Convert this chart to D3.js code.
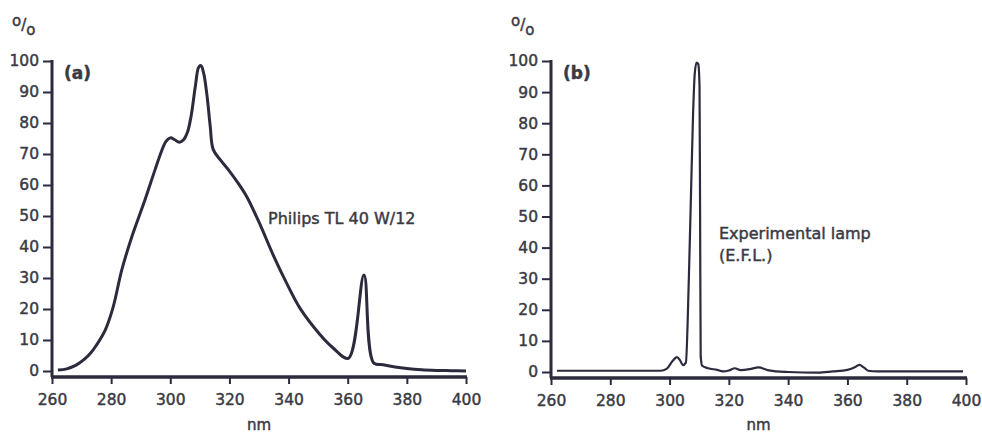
<!DOCTYPE html>
<html>
<head>
<meta charset="utf-8">
<script src="https://cdn.jsdelivr.net/npm/d3@7"></script>
<style>
  body { margin: 0; background: #fff; }
  svg text { font-family: "DejaVu Sans", sans-serif; fill: #3a3a44; stroke: #3a3a44; stroke-width: 0.45px; }
</style>
</head>
<body>
<div id="viz"></div>
<script>
// wavelength ticks and percent ticks
var nmTicks = [260, 280, 300, 320, 340, 360, 380, 400];
var pctTicks = [0, 10, 20, 30, 40, 50, 60, 70, 80, 90, 100];

// (a) Philips TL 40 W/12
var nmA = [262, 265, 268, 271, 273, 275, 278, 280.7, 283.6, 287, 291, 294.8, 297, 298.5, 300, 301.5, 303, 304.5, 305.8, 307, 308.5, 309.6, 310.4, 311.3, 312.4, 313.5, 314.5,
           317, 320, 323, 326, 330, 335, 339, 343.9, 350.6, 355, 360.2, 365.5, 368.7, 372, 376, 380, 385, 390, 395, 400];
var pctA = [0.3, 0.7, 1.8, 3.8, 5.7, 8.3, 13.2, 20.7, 32.6, 43.3, 54, 64.8, 70.8, 74, 75.2, 74.6, 73.8, 74.6, 77, 82, 92, 98, 98.5, 96, 89, 79, 71.5,
            68, 64.5, 60.5, 56, 48, 37, 29, 20.2, 11.8, 7.5, 4.1, 31, 2.7, 2, 1.3, 0.8, 0.4, 0.2, 0.1, 0];

// (b) experimental lamp (E.F.L.)
var nmB = [262, 280, 297, 299, 301, 302.5, 303.5, 304.5, 305.5, 306.5, 307.3, 307.9, 308.5, 309.1, 309.7, 310.1, 310.3, 310.5, 311, 313, 316, 318, 320, 322, 324, 327, 330, 333, 336, 340,
           350, 355, 360, 362.5, 364, 365.5, 367, 370, 380, 390, 399];
var pctB = [0.4, 0.4, 0.4, 1, 3.5, 4.8, 3.8, 2.2, 3, 30, 60, 82, 96, 99.5, 99, 92, 50, 5, 2, 1.2, 0.7, 0.2, 0.5, 1.2, 0.6, 0.9, 1.5, 0.6, 0.2, 0,
            -0.2, 0.2, 0.7, 1.5, 2.3, 1.5, 0.4, 0.2, 0.2, 0.2, 0.2];

var ink = "#2b2b3d";

var svg = d3.select("#viz").append("svg")
    .attr("width", 982)
    .attr("height", 435);

function panel(opt) {
  var x = d3.scaleLinear().domain([260, 400]).range([opt.x0, opt.x1]);
  var y = d3.scaleLinear().domain([0, 100]).range([opt.y0, opt.y100]);
  var g = svg.append("g");

  // y axis
  var yAxis = d3.axisLeft(y).tickValues(pctTicks).tickSize(9).tickSizeOuter(0).tickPadding(4);
  var ya = g.append("g").attr("transform", "translate(" + opt.x0 + ",0)").call(yAxis);
  ya.select(".domain").remove();
  ya.selectAll(".tick line").attr("stroke", ink).attr("stroke-width", 2);
  ya.selectAll(".tick text").style("font-size", "15.5px").attr("fill", null);
  g.append("line")
      .attr("x1", opt.x0).attr("x2", opt.x0)
      .attr("y1", y(100) - 1).attr("y2", opt.axisY)
      .attr("stroke", ink).attr("stroke-width", 3);

  // x axis
  var xAxis = d3.axisBottom(x).tickValues(nmTicks).tickSize(7).tickSizeOuter(0).tickPadding(10);
  var xa = g.append("g").attr("transform", "translate(0," + opt.axisY + ")").call(xAxis);
  xa.select(".domain").remove();
  xa.selectAll(".tick line").attr("stroke", ink).attr("stroke-width", 2);
  xa.selectAll(".tick text").style("font-size", "15.5px").attr("fill", null);
  g.append("line")
      .attr("x1", opt.x0 - 1).attr("x2", opt.x1 + 1)
      .attr("y1", opt.axisY).attr("y2", opt.axisY)
      .attr("stroke", ink).attr("stroke-width", 3.5);

  // unit labels
  var pct = g.append("text").attr("x", opt.x0 - 40).attr("y", 30).style("font-size", "15px");
  pct.append("tspan").attr("dy", -4).text("o");
  pct.append("tspan").attr("dy", 4).text("/");
  pct.append("tspan").attr("dy", 5).text("o");
  g.append("text")
      .attr("x", (opt.x0 + opt.x1) / 2).attr("y", 430)
      .attr("text-anchor", "middle")
      .style("font-size", "15px")
      .text("nm");
  g.append("text")
      .attr("x", opt.x0 + 12).attr("y", 79)
      .style("font-size", "17px").style("font-weight", "bold")
      .text(opt.tag);

  // spectrum
  var line = d3.line()
      .x(function(d) { return x(d[0]); })
      .y(function(d) { return y(d[1]); })
      .curve(opt.curve);
  g.append("path")
      .datum(d3.zip(opt.nm, opt.pct))
      .attr("d", line)
      .attr("fill", "none")
      .attr("stroke", ink)
      .attr("stroke-width", opt.lw)
      .attr("stroke-linejoin", "round");

  opt.labels.forEach(function(l) {
    g.append("text")
        .attr("x", l.x).attr("y", l.y)
        .style("font-size", "16px")
        .text(l.t);
  });
}

panel({x0: 52, x1: 466, y0: 371, y100: 61, axisY: 377, tag: "(a)", nm: nmA, pct: pctA, lw: 3,
       curve: d3.curveCatmullRom.alpha(0.5),
       labels: [{x: 268, y: 224, t: "Philips TL 40 W/12"}]});
panel({x0: 551, x1: 966, y0: 372, y100: 61, axisY: 378, tag: "(b)", nm: nmB, pct: pctB, lw: 2.2,
       curve: d3.curveMonotoneX,
       labels: [{x: 719, y: 239, t: "Experimental lamp"}, {x: 719, y: 261, t: "(E.F.L.)"}]});
</script>
</body>
</html>
